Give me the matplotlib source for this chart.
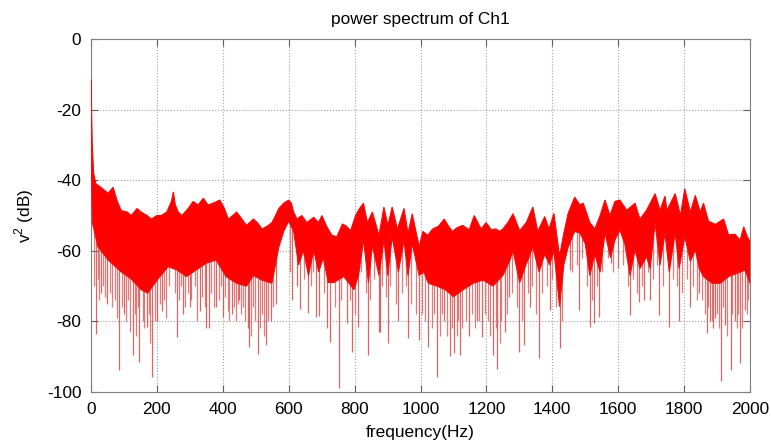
import numpy as np
import matplotlib
matplotlib.use("Agg")
import matplotlib.pyplot as plt

plt.rcParams['font.family'] = ['Liberation Sans', 'DejaVu Sans']
plt.rcParams['axes.unicode_minus'] = False

# ---- data (frequency in Hz, level in dB) ----
upper_f = [0, 2, 4, 8, 15, 30, 52, 67, 80, 92, 110, 122, 140, 152, 170, 183, 200, 213, 230, 244,
           250, 256, 265, 276, 295, 310, 325, 341, 355, 371, 391, 405, 417, 430, 442, 458, 472, 493,
           505, 519, 535, 549, 560, 570, 585, 600, 608, 615, 625, 640, 655, 676, 690, 701, 715, 731,
           746, 763, 775, 788, 803, 815, 827, 839, 854, 874, 889, 901, 914, 930, 950, 962, 975, 996,
           1007, 1022, 1037, 1055, 1072, 1085, 1097, 1110, 1128, 1148, 1163, 1184, 1199, 1215, 1229,
           1240, 1250, 1265, 1281, 1301, 1321, 1341, 1356, 1377, 1390, 1405, 1422, 1435, 1448, 1468,
           1484, 1494, 1514, 1529, 1545, 1560, 1575, 1590, 1605, 1626, 1651, 1666, 1686, 1712, 1727,
           1742, 1748, 1773, 1789, 1802, 1819, 1834, 1849, 1859, 1874, 1895, 1920, 1935, 1955, 1970,
           1981, 1992, 2000]
upper_db = [-11.5, -22, -30, -38, -41, -42, -43.7, -42, -46, -48.6, -49, -50, -48, -49, -50, -51, -50, -50, -49, -46,
            -43.3, -47, -49, -50, -48, -46, -47, -45.1, -47, -46.5, -45.6, -48, -51, -50, -49, -51, -52.8, -51,
            -52, -53.8, -53, -52, -50, -48, -46.5, -45.6, -46.5, -49, -51, -50, -52, -50.5, -52, -50, -53, -55.6,
            -56, -52.4, -53, -54.3, -50, -48, -46.5, -52, -49, -55.6, -47.6, -52.8, -47.6, -53.8, -48, -55, -49.5, -58.8,
            -54.5, -55.6, -53.8, -53, -51, -53, -54.5, -53.5, -52.8, -54, -50, -53.8, -52, -54, -53.8,
            -54.5, -53.8, -52, -49.5, -54.3, -52, -47.6, -54.5, -50.3, -53.8, -49.4, -61.5, -55, -49.4, -44.8,
            -47, -46.5, -52, -53.8, -50, -45.6, -50, -46, -45.6, -48.5, -46.5, -51, -48.5, -43.8, -48.5,
            -44.5, -48.5, -43.8, -50, -42.4, -49, -44.3, -49, -46.5, -51.6, -52.5, -51, -55.5, -55.3, -57,
            -53.2, -56, -57.4]

lower_f = [0, 4, 21, 52, 92, 122, 152, 172, 203, 234, 260, 290, 320, 350, 380, 410, 442, 472, 493,
           519, 549, 570, 585, 600, 615, 630, 645, 660, 676, 691, 705, 720, 737, 767, 798, 812, 827,
           842, 854, 874, 889, 901, 914, 933, 950, 962, 975, 996, 1010, 1024, 1050, 1075, 1100, 1130,
           1160, 1190, 1220, 1250, 1270, 1281, 1301, 1320, 1341, 1360, 1377, 1392, 1405, 1422, 1435,
           1448, 1468, 1484, 1500, 1514, 1529, 1545, 1560, 1577, 1590, 1605, 1620, 1636, 1651, 1666,
           1686, 1697, 1712, 1727, 1742, 1755, 1773, 1785, 1802, 1819, 1834, 1846, 1859, 1885, 1910,
           1935, 1960, 1985, 2000]
lower_db = [-30, -52, -58.8, -62.6, -66, -68, -71, -72, -68, -64.5, -65.4, -67.3, -65.4, -63.5, -62.6, -67.3, -69.2, -70, -67,
            -68.3, -69.2, -59, -54.5, -51.6, -54.5, -64, -60, -67, -60, -66, -62, -69, -69, -67.3, -71, -67, -57,
            -69, -58.5, -67, -57, -67, -56, -66, -57, -67, -58, -67, -66, -69.2, -70, -71, -73, -71,
            -69.2, -68.3, -70, -67, -63, -60, -69, -64, -59, -66, -61, -64, -60, -75.8, -64,
            -59, -54.5, -55, -58, -67, -61, -66, -55, -62, -57, -54.1, -58, -67, -59.8, -65,
            -61.7, -65, -52.2, -64, -55, -66, -55, -65, -56, -63, -59.8, -65, -67.3, -69.2, -69.2,
            -67.3, -66.4, -65.5, -69.2]

# deep dips
spike_f = [14, 30, 50, 86, 100, 126, 147, 169, 186, 200, 215, 260, 280, 300, 330, 350, 359, 380, 400,
           427, 450, 475, 480, 506, 531, 545, 560, 610, 625, 635, 659, 682, 691, 717, 725, 753, 778, 791,
           809, 842, 874, 877, 901, 933, 963, 996, 1024, 1049, 1070, 1090, 1103, 1120, 1148, 1170, 1186,
           1221, 1233, 1257, 1270, 1300, 1314, 1331, 1360, 1392, 1423, 1453, 1481, 1514, 1527, 1543, 1577,
           1600, 1636, 1663, 1678, 1697, 1725, 1755, 1785, 1819, 1846, 1868, 1879, 1889, 1895, 1911, 1925,
           1941, 1953, 1970, 1985]
spike_db = [-83.6, -72, -75, -93.8, -78, -89.5, -91.5, -81.5, -95.8, -80, -77, -84.4, -78, -76, -77, -82, -81.9, -76, -78.7,
            -78, -74, -82, -87.2, -89.3, -86.7, -80, -75, -74, -70, -76.5, -77.5, -78.7, -78.4, -81.8, -85.7, -98.9, -80.5, -88.6,
            -81.5, -89.5, -83, -82.9, -86.2, -80, -84.7, -85.2, -87.2, -95.8, -80, -89.8, -89, -89.5, -84, -80, -84.3,
            -89.5, -93.6, -83, -73, -88.6, -86.7, -75.8, -90.5, -76.8, -87.6, -65.4, -76.8, -81.7, -80.5, -78.7, -63.5,
            -64.9, -78.2, -74.4, -74, -74, -78.2, -81.7, -79.8, -76, -72, -83.4, -80, -82, -79, -97, -81,
            -93.8, -80, -91.9, -76.8]

# shallower dips forming the fringe under the dense band
fringe_f = [10, 20, 25, 35, 42, 58, 63, 72, 78, 95, 105, 113, 118, 133, 137, 142, 157, 162, 175, 180,
            193, 208, 222, 228, 238, 255, 268, 274, 286, 294, 305, 315, 322, 337, 345, 365, 372, 388, 395,
            408, 415, 420, 435, 440, 446, 455, 462, 468, 486, 492, 498, 512, 518, 525, 538, 552,
            605, 645, 668, 675, 706, 740, 760, 785, 800, 820, 835, 848, 860, 883, 895, 908, 925, 944, 955,
            970, 985, 1005, 1015, 1035, 1042, 1058, 1065, 1080, 1095, 1110, 1115, 1127, 1138, 1155, 1165,
            1178, 1195, 1205, 1212, 1228, 1240, 1245, 1263, 1278, 1292, 1308, 1325, 1338, 1350, 1368, 1385,
            1400, 1412, 1430, 1460, 1475, 1490, 1505, 1520, 1535, 1550, 1570, 1585, 1615, 1630, 1645, 1656,
            1672, 1690, 1705, 1718, 1735, 1765, 1778, 1795, 1810, 1828, 1840, 1855, 1862, 1872, 1884, 1900,
            1905, 1918, 1930, 1946, 1960, 1965, 1977, 1990, 1995]
fringe_db = [-70, -68, -74, -70, -73, -72, -76, -74, -79, -76, -80, -74, -83, -78, -84, -76, -80, -82, -78, -86,
             -80, -75, -74, -79, -70, -72, -74, -70, -76, -72, -74, -70, -80, -73, -76, -72, -76, -74, -70,
             -73, -77, -80, -76, -80, -75, -78, -76, -80, -84, -76, -80, -82, -78, -84, -80, -76,
             -66, -68, -70, -66, -72, -76, -74, -74, -78, -66, -72, -74, -68, -70, -73, -70, -75, -72, -70,
             -75, -78, -78, -80, -82, -78, -84, -78, -84, -82, -84, -80, -82, -80, -78, -82,
             -80, -78, -80, -84, -82, -86, -80, -78, -72, -76, -80, -72, -70, -78, -72, -70,
             -68, -76, -80, -66, -64, -62, -70, -74, -70, -66, -62, -66, -64, -70, -68, -72,
             -70, -66, -68, -64, -70, -68, -70, -72, -68, -70, -74, -74, -78, -76, -80, -78,
             -82, -76, -84, -78, -82, -78, -82, -78, -74]

x_ticks = [0, 200, 400, 600, 800, 1000, 1200, 1400, 1600, 1800, 2000]
y_ticks = [0, -20, -40, -60, -80, -100]

# ---- figure ----
fig = plt.figure(figsize=(7.71, 4.46), dpi=100)
ax = fig.add_axes([91 / 771, 1 - 392 / 446, 659 / 771, 353 / 446])

uf = np.asarray(upper_f, float); ud = np.asarray(upper_db, float)
lf = np.asarray(lower_f, float); ld = np.asarray(lower_db, float)
sf = np.asarray(spike_f, float); sd = np.asarray(spike_db, float)
ff = np.asarray(fringe_f, float); fd = np.asarray(fringe_db, float)

# dips drawn behind the dense band
ax.vlines(ff, fd, np.interp(ff, lf, ld) + 3, color=(0.88, 0.35, 0.35), lw=0.9, alpha=0.8, zorder=2)
ax.vlines(sf, sd, np.interp(sf, lf, ld) + 3, color=(0.82, 0.25, 0.25), lw=0.9, alpha=0.8, zorder=2)

# dense band
ax.fill(np.concatenate([uf, lf[::-1]]), np.concatenate([ud, ld[::-1]]),
        facecolor='#ff0000', edgecolor='#ee1010', lw=0.8, zorder=3)

ax.set_xlim(0, 2000)
ax.set_ylim(-100, 0)
ax.set_xticks(x_ticks)
ax.set_yticks(y_ticks)
ax.grid(True, linestyle=':', color='#a0a0a0', lw=0.8)
ax.set_axisbelow(True)
ax.tick_params(direction='in', length=5, top=True, right=True, labelsize=12.4,
               color='#606060', pad=7)
for s in ax.spines.values():
    s.set_color('#808080')
    s.set_linewidth(0.8)

ax.set_title('power spectrum of Ch1', fontsize=12.4, pad=11)
ax.set_xlabel('frequency(Hz)', fontsize=12.4, labelpad=6)
ax.set_ylabel(r'v$^{\mathregular{2}}$ (dB)', fontsize=12.4, labelpad=8)

fig.savefig('out.png', dpi=100)
